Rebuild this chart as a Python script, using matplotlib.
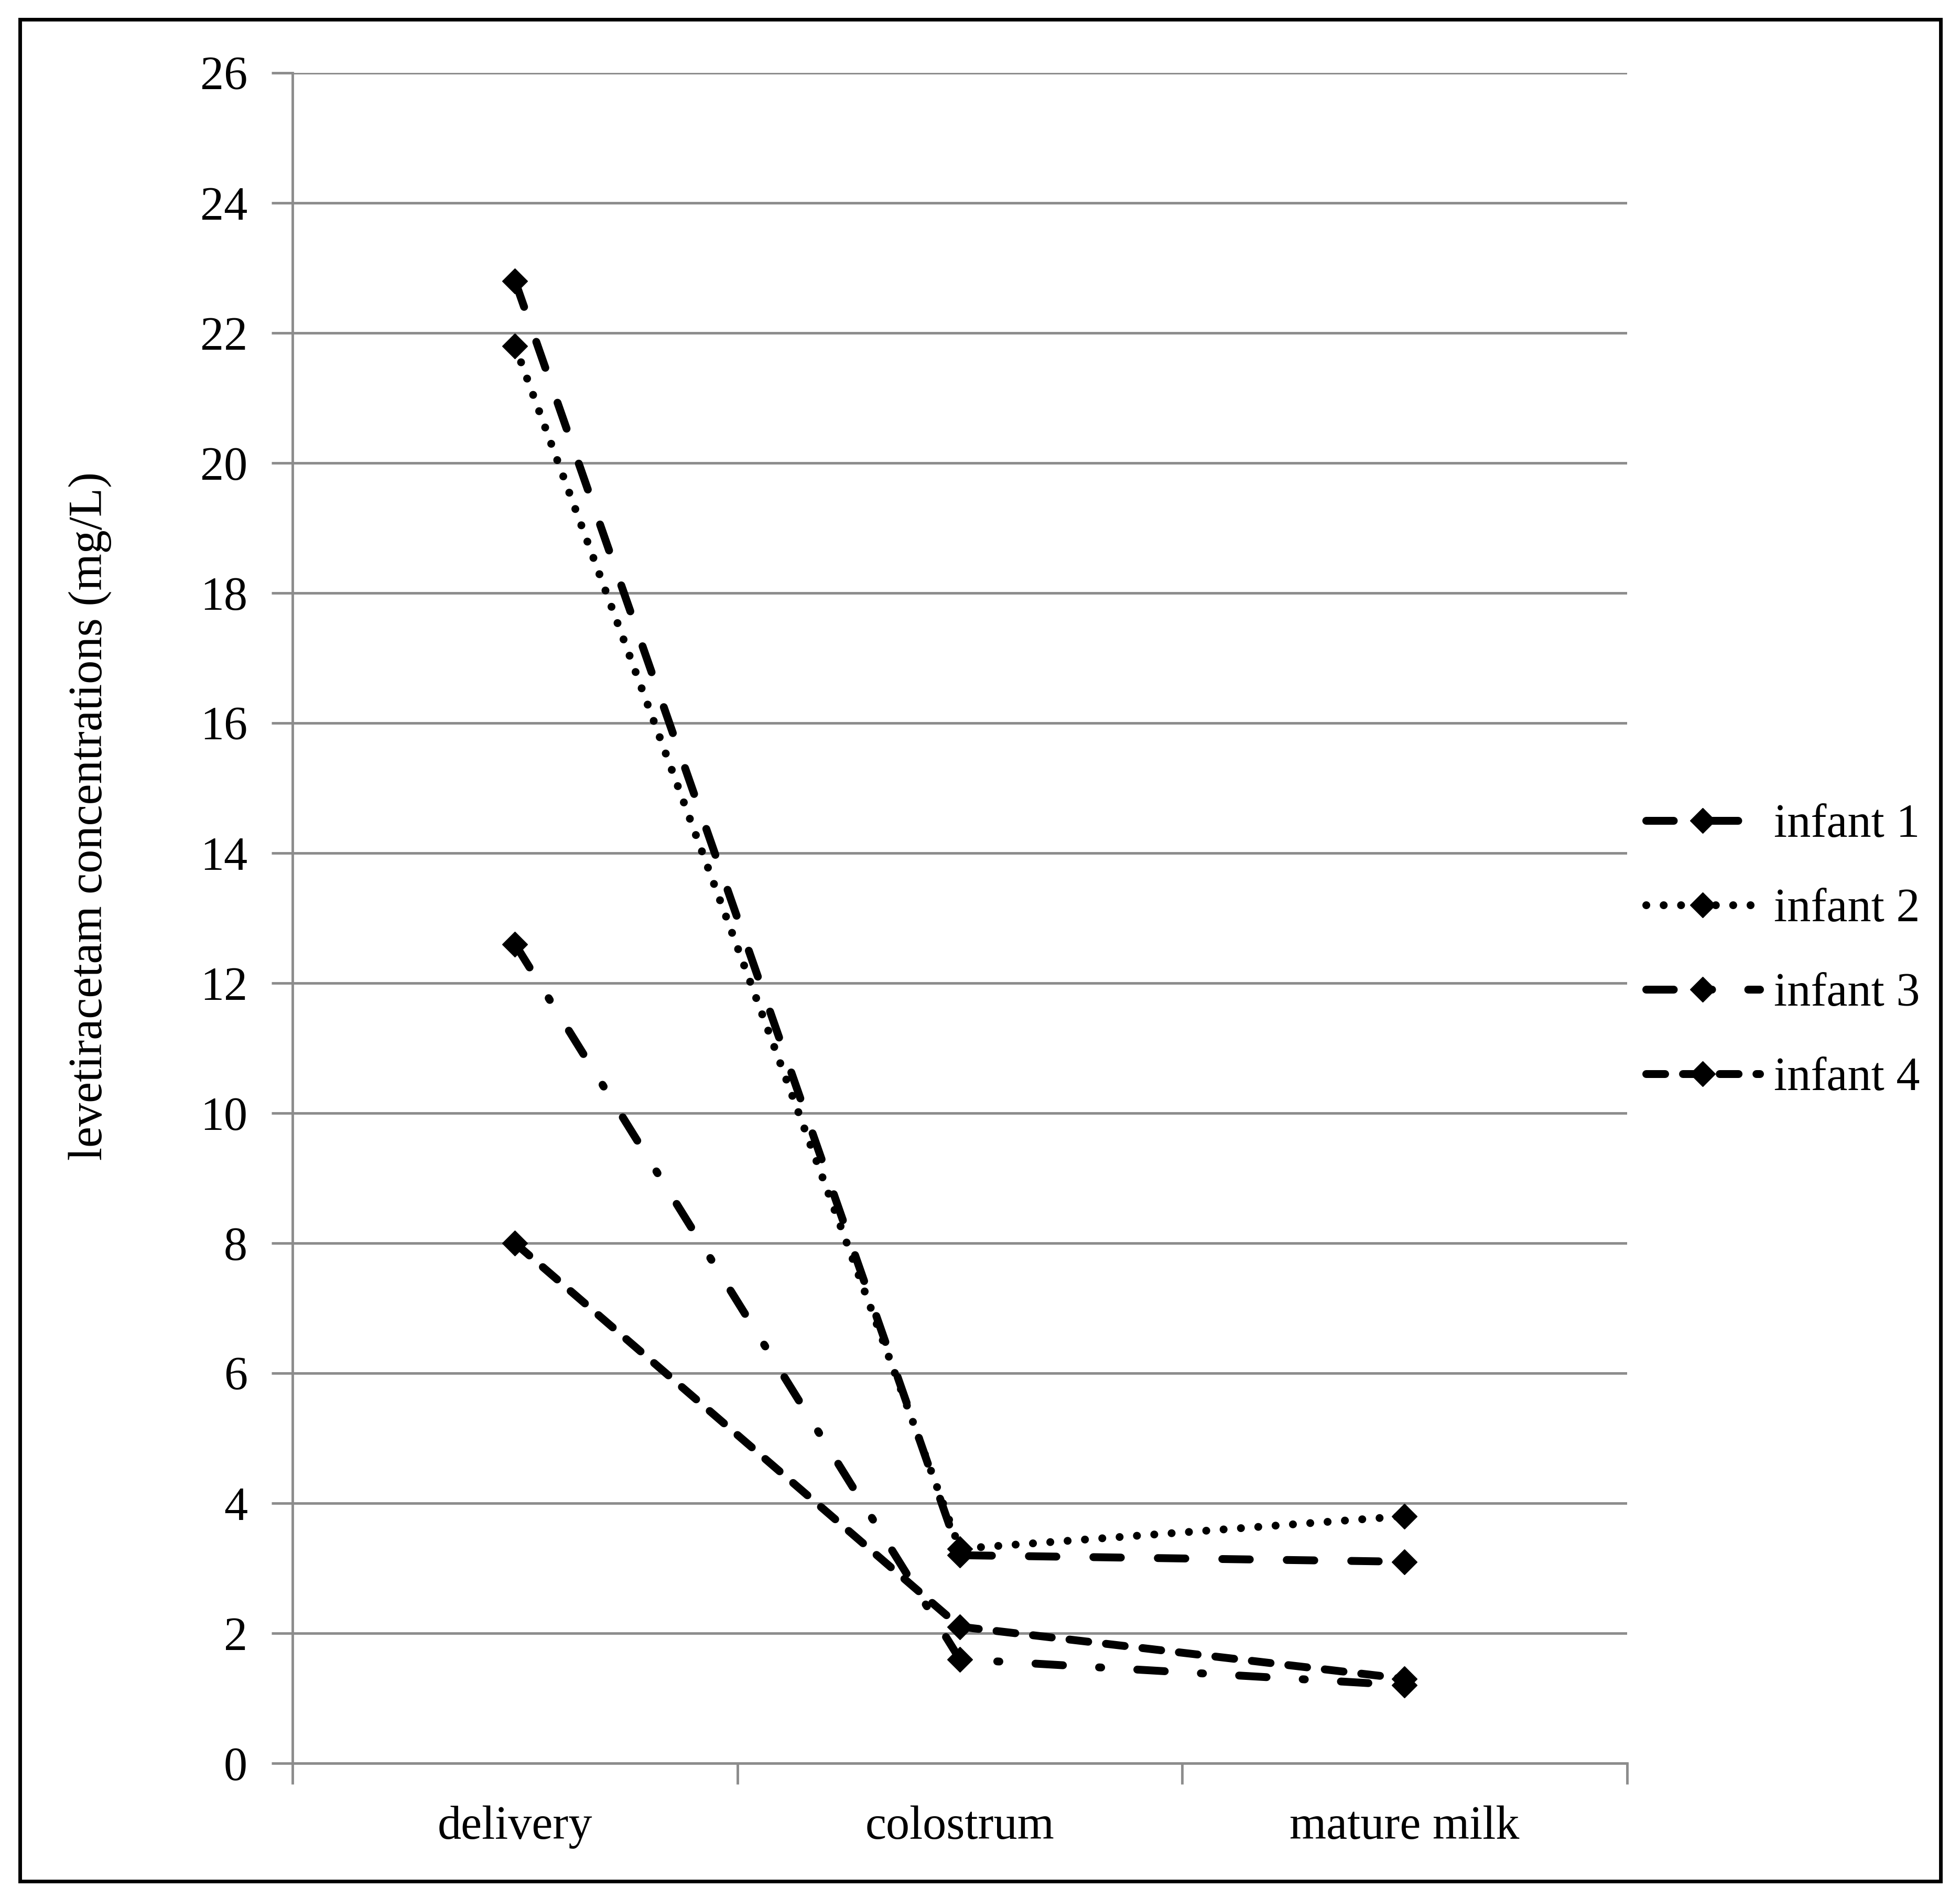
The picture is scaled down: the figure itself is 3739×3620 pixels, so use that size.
import matplotlib.pyplot as plt
from matplotlib.patches import Rectangle

# data
stages = ["delivery", "colostrum", "mature milk"]
infant_1 = [22.8, 3.2, 3.1]
infant_2 = [21.8, 3.3, 3.8]
infant_3 = [12.6, 1.6, 1.2]
infant_4 = [8.0, 2.1, 1.3]
labels = ["infant 1", "infant 2", "infant 3", "infant 4"]

plt.rcParams["font.family"] = ["Liberation Serif", "DejaVu Serif"]

fig = plt.figure(figsize=(37.39, 36.20), dpi=100)
ax = fig.add_axes([0.1493, 0.0710, 0.6808, 0.8906])

grid_col = "#8c8c8c"
fs = 65
lw = 10.8
styles = [
    (0, (3.5, 4.7)),
    (0, (0.01, 2.2)),
    (0, (3.5, 4.6, 0.27, 4.6)),
    (0, (2.4, 2.27)),
]

x = [0.5, 1.5, 2.5]
series = [infant_1, infant_2, infant_3, infant_4]
for vals, ls, lab in zip(series, styles, labels):
    ax.plot(x, vals, color="black", linewidth=lw, linestyle=ls,
            dash_capstyle="round", marker="D", markersize=24,
            markerfacecolor="black", markeredgecolor="black",
            label=lab, zorder=3)

ax.set_xlim(0, 3)
ax.set_ylim(0, 26)
ax.set_yticks(range(0, 27, 2))
ax.set_xticks([0, 1, 2, 3])
ax.set_xticklabels([])
ax.set_xticks(x, minor=True)
ax.set_xticklabels(stages, minor=True)
ax.tick_params(axis="x", which="minor", length=0, pad=58, labelsize=fs)
ax.tick_params(axis="x", which="major", length=29, width=3.5, color=grid_col)
ax.tick_params(axis="y", length=29, width=3.5, color=grid_col, pad=33,
               labelsize=fs)

ax.yaxis.grid(True, color=grid_col, linewidth=3.5)
ax.set_axisbelow(True)
for side in ["top", "right"]:
    ax.spines[side].set_visible(False)
for side in ["left", "bottom"]:
    ax.spines[side].set_color(grid_col)
    ax.spines[side].set_linewidth(3.5)

fig.text(0.046, 0.570, "levetiracetam concentrations (mg/L)",
         rotation=90, va="center", ha="center", fontsize=fs)

ax.legend(loc="center left", bbox_to_anchor=(1.0, 0.48), frameon=False,
          fontsize=fs, handlelength=2.4, handletextpad=0.3,
          labelspacing=0.87, borderaxespad=0.0)

fig.patches.append(Rectangle((0.0102, 0.0088), 0.980, 0.981,
                             transform=fig.transFigure, fill=False,
                             edgecolor="black", linewidth=5))

fig.savefig("out.png", dpi=100)
